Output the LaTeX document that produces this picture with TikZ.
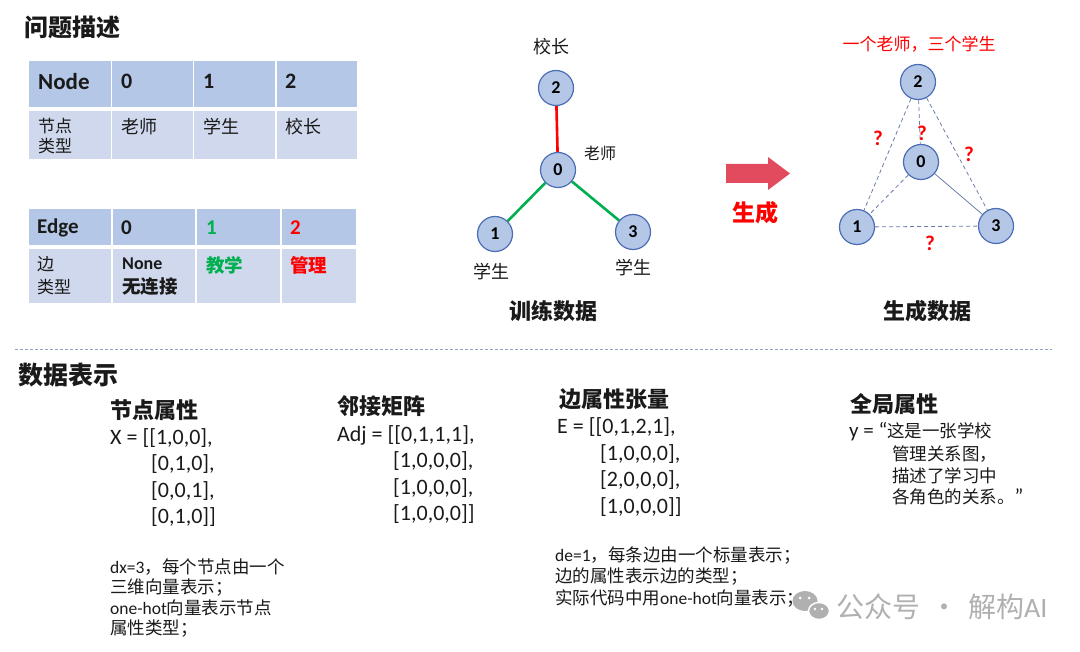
\documentclass[tikz,border=0pt]{standalone}
\usepackage{fontspec}
\setmainfont{Noto Sans CJK SC}
\newfontfamily\lat{Carlito}
\definecolor{hdr}{HTML}{B4C7E7}
\definecolor{rowc}{HTML}{CFD8EC}
\definecolor{nfill}{HTML}{B4C7E7}
\definecolor{nedge}{HTML}{4A6DB5}
\definecolor{egreen}{HTML}{00B050}
\definecolor{ered}{HTML}{FF0000}
\definecolor{arr}{HTML}{E24B5D}
\definecolor{dashc}{HTML}{6A7DAA}
\definecolor{sepc}{HTML}{8FA3C4}
\definecolor{wm}{HTML}{B0B0B0}
\definecolor{txtc}{HTML}{1A1A1A}
\newcommand{\fs}[1]{\fontsize{#1}{#1}\selectfont}
\begin{document}
\begin{tikzpicture}[x=1pt,y=-1pt,
  txt/.style={inner sep=0pt,anchor=west,text=txtc},
  cell/.style={inner sep=0pt,anchor=north west},
  gnode/.style={circle,draw=nedge,fill=nfill,line width=1.2pt,minimum size=35pt,inner sep=0pt,font=\lat\bfseries\fs{18}},
  redge/.style={ered,line width=2.6pt},
  gedge/.style={egreen,line width=2.6pt},
  dedge/.style={dashc,line width=0.8pt,dash pattern=on 4pt off 3pt},
  sedge/.style={dashc,line width=0.8pt},
  qm/.style={inner sep=0pt,text=ered,font=\lat\bfseries\fs{21}},
  hd/.style={txt,font=\fs{22}\bfseries},
  body/.style={txt,font=\fs{17.5}},
  mat/.style={txt,font=\lat\fs{22}}]
\useasboundingbox (0,0) rectangle (1080,652);
\fill[white] (0,0) rectangle (1080,652);

% ---------- title
\node[txt,font=\fs{24}\bfseries] (t1) at (24,27) {问题描述};

% ---------- table 1
\node[cell,fill=hdr,minimum width=82,minimum height=46] (a00) at (29,61) {};
\node[cell,fill=hdr,minimum width=81,minimum height=46] (a01) at (112,61) {};
\node[cell,fill=hdr,minimum width=81,minimum height=46] (a02) at (194,61) {};
\node[cell,fill=hdr,minimum width=80,minimum height=46] (a03) at (277,61) {};
\node[cell,fill=rowc,minimum width=82,minimum height=48] (a10) at (29,111) {};
\node[cell,fill=rowc,minimum width=81,minimum height=48] (a11) at (112,111) {};
\node[cell,fill=rowc,minimum width=81,minimum height=48] (a12) at (194,111) {};
\node[cell,fill=rowc,minimum width=80,minimum height=48] (a13) at (277,111) {};
\node[txt,font=\lat\bfseries\fs{23}] (nodeh) at (38,82) {Node};
\node[txt,font=\lat\bfseries\fs{22}] (n0h) at (121,81) {0};
\node[txt,font=\lat\bfseries\fs{22}] (n1h) at (203,81) {1};
\node[txt,font=\lat\bfseries\fs{22}] (n2h) at (285,81) {2};
\node[txt,font=\fs{17}] (ntl1) at (38,126) {节点};
\node[txt,font=\fs{17}] (ntl2) at (38,146) {类型};
\node[txt,font=\fs{18}] (nt0) at (121,127) {老师};
\node[txt,font=\fs{18}] (nt1) at (203,127) {学生};
\node[txt,font=\fs{18}] (nt2) at (285,127) {校长};

% ---------- table 2
\node[cell,fill=hdr,minimum width=82,minimum height=36] (b00) at (29,209) {};
\node[cell,fill=hdr,minimum width=82,minimum height=36] (b01) at (113,209) {};
\node[cell,fill=hdr,minimum width=83,minimum height=36] (b02) at (197,209) {};
\node[cell,fill=hdr,minimum width=74,minimum height=36] (b03) at (282,209) {};
\node[cell,fill=rowc,minimum width=82,minimum height=54] (b10) at (29,249) {};
\node[cell,fill=rowc,minimum width=82,minimum height=54] (b11) at (113,249) {};
\node[cell,fill=rowc,minimum width=83,minimum height=54] (b12) at (197,249) {};
\node[cell,fill=rowc,minimum width=74,minimum height=54] (b13) at (282,249) {};
\node[txt,font=\lat\bfseries\fs{21}] (edgeh) at (37,228) {Edge};
\node[txt,font=\lat\bfseries\fs{21}] (e0h) at (121,228) {0};
\node[txt,font=\lat\bfseries\fs{21},text=egreen] (e1h) at (206,228) {1};
\node[txt,font=\lat\bfseries\fs{21},text=ered] (e2h) at (290,228) {2};
\node[txt,font=\fs{17}] (etl1) at (37,264) {边};
\node[txt,font=\fs{17}] (etl2) at (37,287) {类型};
\node[txt,font=\lat\bfseries\fs{18}] (et0a) at (122,264) {None};
\node[txt,font=\fs{18.5}\bfseries] (et0b) at (122,287) {无连接};
\node[txt,font=\fs{18.5}\bfseries,text=egreen] (et1) at (206,265) {教学};
\node[txt,font=\fs{18.5}\bfseries,text=ered] (et2) at (290,265) {管理};

% ---------- training graph
\node[gnode] (l2) at (556,88) {2};
\node[gnode] (l0) at (558,170) {0};
\node[gnode] (l1) at (495,234) {1};
\node[gnode] (l3) at (633,232) {3};
\draw[redge] (l2) -- (l0);
\draw[gedge] (l0) -- (l1);
\draw[gedge] (l0) -- (l3);
\node[inner sep=0pt,font=\fs{18},text=txtc] (lb2) at (551,47) {校长};
\node[inner sep=0pt,font=\fs{16},text=txtc] (lb0) at (600,153) {老师};
\node[inner sep=0pt,font=\fs{18},text=txtc] (lb1) at (491,272) {学生};
\node[inner sep=0pt,font=\fs{18},text=txtc] (lb3) at (633,268) {学生};
\node[inner sep=0pt,font=\fs{22}\bfseries,text=txtc] (train) at (553,311) {训练数据};

% ---------- arrow
\fill[arr] (726,164) -- (768,164) -- (768,157) -- (790,173.5) -- (768,190) -- (768,183) -- (726,183) -- cycle;
\node[inner sep=0pt,font=\fs{23}\bfseries,text=ered] (gen) at (755,213) {生成};

% ---------- generated graph
\node[gnode] (r2) at (918,82) {2};
\node[gnode] (r0) at (921,162) {0};
\node[gnode] (r1) at (857,227) {1};
\node[gnode] (r3) at (996,226) {3};
\draw[dedge] (r2) -- (r1);
\draw[dedge] (r2) -- (r0);
\draw[dedge] (r2) -- (r3);
\draw[dedge] (r0) -- (r1);
\draw[sedge] (r0) -- (r3);
\draw[dedge] (r1) -- (r3);
\node[qm] (q1) at (878,138) {?};
\node[qm] (q2) at (922,133) {?};
\node[qm] (q3) at (969,154) {?};
\node[qm] (q4) at (930,243) {?};
\node[inner sep=0pt,font=\fs{17},text=ered] (cap) at (919,44) {一个老师，三个学生};
\node[inner sep=0pt,font=\fs{22}\bfseries,text=txtc] (gend) at (927,311) {生成数据};

% ---------- separator
\coordinate (s1) at (15,349);
\coordinate (s2) at (1052,349);
\draw[sepc,line width=0.8pt,dash pattern=on 3pt off 2pt] (s1) -- (s2);

% ---------- data representation
\node[txt,font=\fs{25}\bfseries] (t2) at (18,375) {数据表示};

\node[hd] (h1) at (110,410) {节点属性};
\node[mat] (x1) at (110,438) {X = [[1,0,0],};
\node[mat] (x2) at (151,464) {[0,1,0],};
\node[mat] (x3) at (151,491) {[0,0,1],};
\node[mat] (x4) at (151,517) {[0,1,0]]};
\node[body] (d1) at (110,567) {{\lat dx=3}，每个节点由一个};
\node[body] (d2) at (110,588) {三维向量表示；};
\node[body] (d3) at (110,608) {{\lat one-hot}向量表示节点};
\node[body] (d4) at (110,629) {属性类型；};

\node[hd] (h2) at (337,406) {邻接矩阵};
\node[mat] (a1) at (337,435) {Adj = [[0,1,1,1],};
\node[mat] (a2) at (393,461) {[1,0,0,0],};
\node[mat] (a3) at (393,488) {[1,0,0,0],};
\node[mat] (a4) at (393,514) {[1,0,0,0]]};

\node[hd] (h3) at (559,399) {边属性张量};
\node[mat] (m1) at (557,427) {E = [[0,1,2,1],};
\node[mat] (m2) at (600,454) {[1,0,0,0],};
\node[mat] (m3) at (600,480) {[2,0,0,0],};
\node[mat] (m4) at (600,507) {[1,0,0,0]]};
\node[body] (f1) at (555,556) {{\lat de=1}，每条边由一个标量表示；};
\node[body] (f2) at (555,577) {边的属性表示边的类型；};
\node[body] (f3) at (555,598) {实际代码中用{\lat one-hot}向量表示；};

\node[hd] (h4) at (850,404) {全局属性};
\node[body] (g1) at (849,432) {{\lat\fs{21}y = “}这是一张学校};
\node[body] (g2) at (892,454) {管理关系图，};
\node[body] (g3) at (892,476) {描述了学习中};
\node[body] (g4) at (892,497) {各角色的关系。{\lat\fs{21}”}};

% ---------- watermark
\fill[wm] (805,601) ellipse [x radius=12.5, y radius=10];
\draw[white,line width=1.4pt,fill=wm] (819,611) ellipse [x radius=10.5, y radius=8.5];
\fill[white] (800,598) circle (1.5) (809,598) circle (1.5) (815,609) circle (1.3) (822,609) circle (1.3);
\node[txt,font=\fs{28},text=wm] (wmt) at (836,607) {公众号\hspace{10pt}·\hspace{10pt}解构{\lat AI}};
\end{tikzpicture}
\end{document}
